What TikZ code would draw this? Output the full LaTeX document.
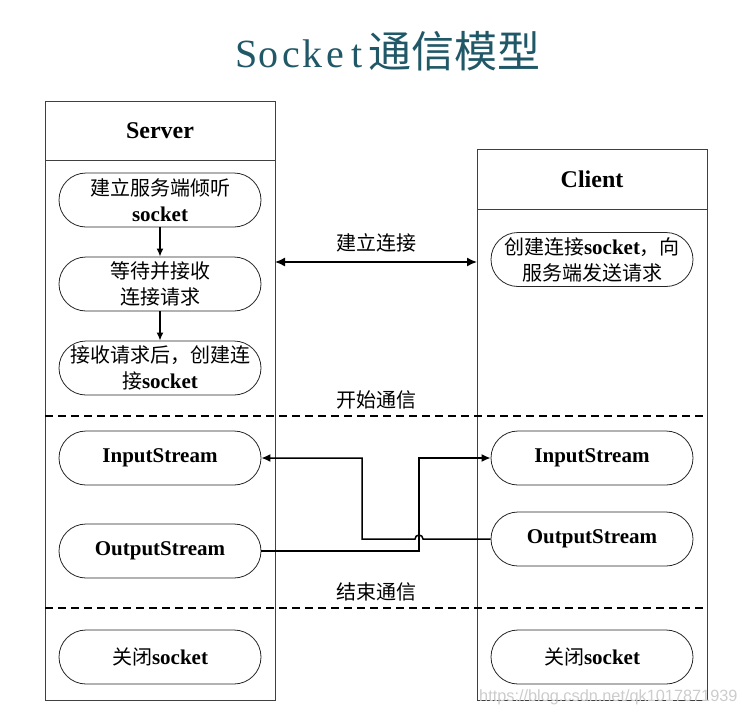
\documentclass[tikz,border=0pt]{standalone}
\usepackage{fontspec}
\setmainfont{Liberation Serif}
\newfontfamily\cjk{Noto Sans CJK SC}
\newfontfamily\wmfont{Liberation Sans}
\usetikzlibrary{arrows.meta}
\definecolor{titlecol}{HTML}{215868}
\definecolor{lanecol}{HTML}{404040}
\definecolor{wmcol}{HTML}{CCCCCC}
\newcommand{\cn}[1]{{\cjk #1}}
\newcommand{\lat}[1]{{\bfseries\fontsize{21}{26}\selectfont #1}}
\newcommand{\tk}[1]{\makebox[22pt][c]{#1}}
\begin{document}
\begin{tikzpicture}[x=1pt,y=-1pt,
  lane/.style={draw=lanecol,line width=0.9pt},
  proc/.style={draw=black!85,line width=0.8pt,rounded corners=27pt,minimum width=202pt,minimum height=54pt,align=center,inner sep=1pt,font=\fontsize{20}{26}\selectfont},
  head/.style={font=\bfseries\fontsize{24}{28}\selectfont},
  lbl/.style={font=\cjk\fontsize{20}{22}\selectfont,inner sep=0pt},
  flow/.style={line width=1.5pt,-{Latex[length=9pt,width=8pt]}},
  divider/.style={line width=1.2pt,dash pattern=on 8pt off 5pt}]
\path[use as bounding box] (0,0) rectangle (742,715);
% title
\node (title) at (388,51) {\color{titlecol}\fontsize{40}{48}\selectfont\tk{S}\tk{o}\tk{c}\tk{k}\tk{e}\tk{t}{\cjk\fontsize{43}{48}\selectfont 通信模型}};
% lanes
\draw[lane] (45,101) rectangle (275,700);
\draw[lane] (45,160) -- (275,160);
\draw[lane] (477,149) rectangle (707,700);
\draw[lane] (477,209) -- (707,209);
\node[head] (server) at (160,130.5) {Server};
\node[head] (client) at (592,179) {Client};
% dividers
\draw[divider] (45,416) -- (707,416);
\draw[divider] (45,608) -- (707,608);
% server processes
\node[proc] (s1) at (160,200) {\cn{建立服务端倾听}\\\lat{socket}};
\node[proc] (s2) at (160,284) {\cn{等待并接收}\\\cn{连接请求}};
\node[proc] (s3) at (160,368) {\cn{接收请求后，创建连}\\\cn{接}\lat{socket}};
\node[proc] (sIn) at (160,458) {\lat{InputStream}};
\node[proc] (sOut) at (160,551) {\lat{OutputStream}};
\node[proc] (sClose) at (160,657) {\cn{关闭}\lat{socket}};
% client processes
\node[proc] (c1) at (592,259.5) {\cn{创建连接}\lat{socket}\cn{，向}\\\cn{服务端发送请求}};
\node[proc] (cIn) at (592,458) {\lat{InputStream}};
\node[proc] (cOut) at (592,539) {\lat{OutputStream}};
\node[proc] (cClose) at (592,657) {\cn{关闭}\lat{socket}};
% labels
\node[lbl] (lconn) at (376,243) {建立连接};
\node[lbl] (lstart) at (376,400) {开始通信};
\node[lbl] (lend) at (376,592) {结束通信};
% arrows
\draw[flow,-{Latex[length=8pt,width=7pt]}] (s1) -- (s2);
\draw[flow,-{Latex[length=8pt,width=7pt]}] (s2) -- (s3);
\coordinate (connL) at (275,262);
\coordinate (connR) at (477,262);
\draw[flow,{Latex[length=10pt,width=9pt]}-{Latex[length=10pt,width=9pt]}] (connL) -- (connR);
\coordinate (jumpR) at (423,539);
\draw[flow] (cOut.west) -- (jumpR) arc[start angle=0,end angle=-180,radius=4] -- (362,539) |- (sIn.east);
\draw[flow] (sOut.east) -- (419,551) |- (cIn.west);
% watermark
\node[anchor=west,text=wmcol,font=\wmfont\fontsize{16.3}{18}\selectfont,inner sep=0pt] (wm) at (479,697) {https://blog.csdn.net/qk1017871939};
\end{tikzpicture}
\end{document}
